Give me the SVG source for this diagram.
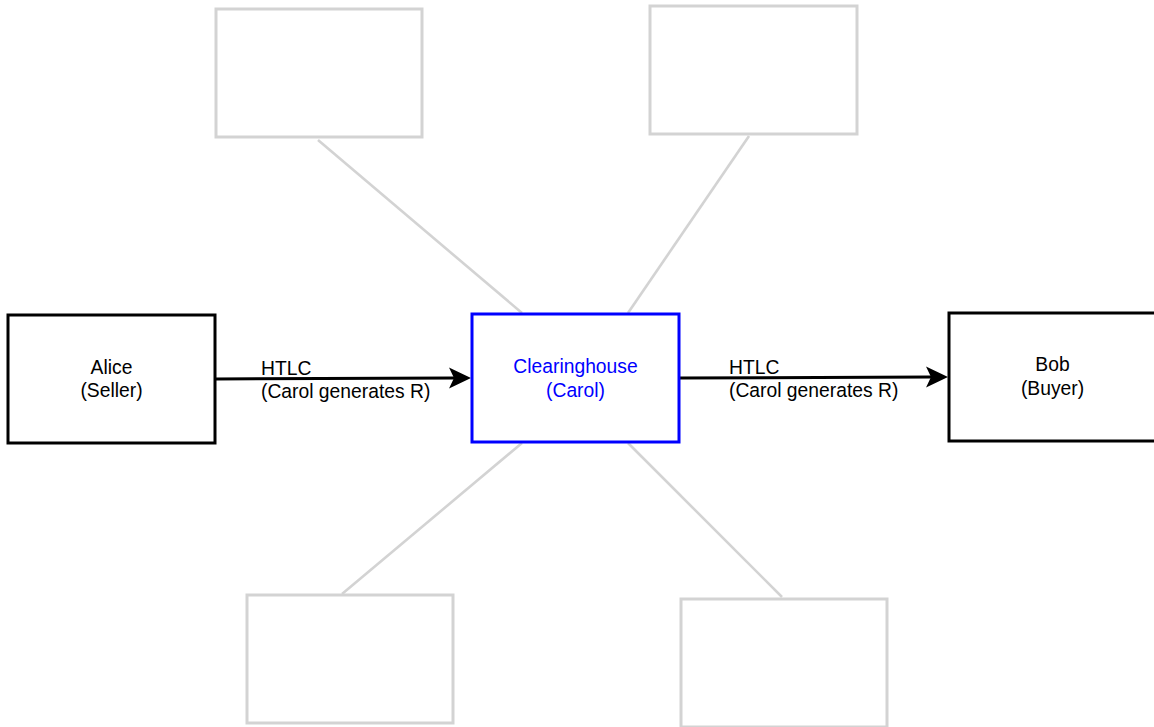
<svg xmlns="http://www.w3.org/2000/svg" width="1154" height="727" viewBox="0 0 1154 727">
<style>
.box{fill:#fff;stroke:#000;stroke-width:3}
.hub{fill:#fff;stroke:#0000ff;stroke-width:3}
.ghost{fill:#fff;stroke:#d3d3d3;stroke-width:3}
.gline{stroke:#d3d3d3;stroke-width:2.6;fill:none}
.arr{stroke:#000;stroke-width:3;fill:none}
text{font-family:"Liberation Sans",Arial,Helvetica,sans-serif;font-size:19.3px;fill:#000}
.c{text-anchor:middle}
.blue{fill:#0000ff}
</style>
<defs>
<marker id="ah" markerUnits="userSpaceOnUse" markerWidth="24" markerHeight="24" viewBox="0 0 24 24" refX="5" refY="11" orient="auto">
<path d="M0,0.5 L22,11 L0,21.5 L5,11 Z" fill="#000"/>
</marker>
</defs>
<g id="connectors">
<line class="gline" x1="318" y1="140" x2="522" y2="313"/>
<line class="gline" x1="749" y1="136" x2="628" y2="313"/>
<line class="gline" x1="522" y1="443" x2="342" y2="594"/>
<line class="gline" x1="628" y1="443" x2="782" y2="597"/>
<line class="arr" x1="216" y1="379" x2="454" y2="378" marker-end="url(#ah)"/>
<line class="arr" x1="680" y1="378" x2="931" y2="377" marker-end="url(#ah)"/>
<g id="label-alice-carol"><text x="261" y="375">HTLC</text><text x="261" y="398">(Carol generates R)</text></g>
<g id="label-carol-bob"><text x="729" y="374">HTLC</text><text x="729" y="397">(Carol generates R)</text></g>
</g>
<g id="ghost-tl"><rect class="ghost" x="216" y="9" width="206" height="128"/></g>
<g id="ghost-tr"><rect class="ghost" x="650" y="6" width="207" height="128"/></g>
<g id="ghost-bl"><rect class="ghost" x="247" y="595" width="206" height="128"/></g>
<g id="ghost-br"><rect class="ghost" x="681" y="599" width="206" height="128"/></g>
<g id="alice"><rect class="box" x="8" y="315" width="207" height="128"/><text class="c" x="111.5" y="374">Alice</text><text class="c" x="111.5" y="397">(Seller)</text></g>
<g id="clearinghouse"><rect class="hub" x="472" y="314" width="207" height="128"/><text class="c blue" x="575.5" y="373">Clearinghouse</text><text class="c blue" x="575.5" y="397">(Carol)</text></g>
<g id="bob"><rect class="box" x="949" y="313" width="207" height="128"/><text class="c" x="1052.5" y="371">Bob</text><text class="c" x="1052.5" y="395">(Buyer)</text></g>
</svg>
